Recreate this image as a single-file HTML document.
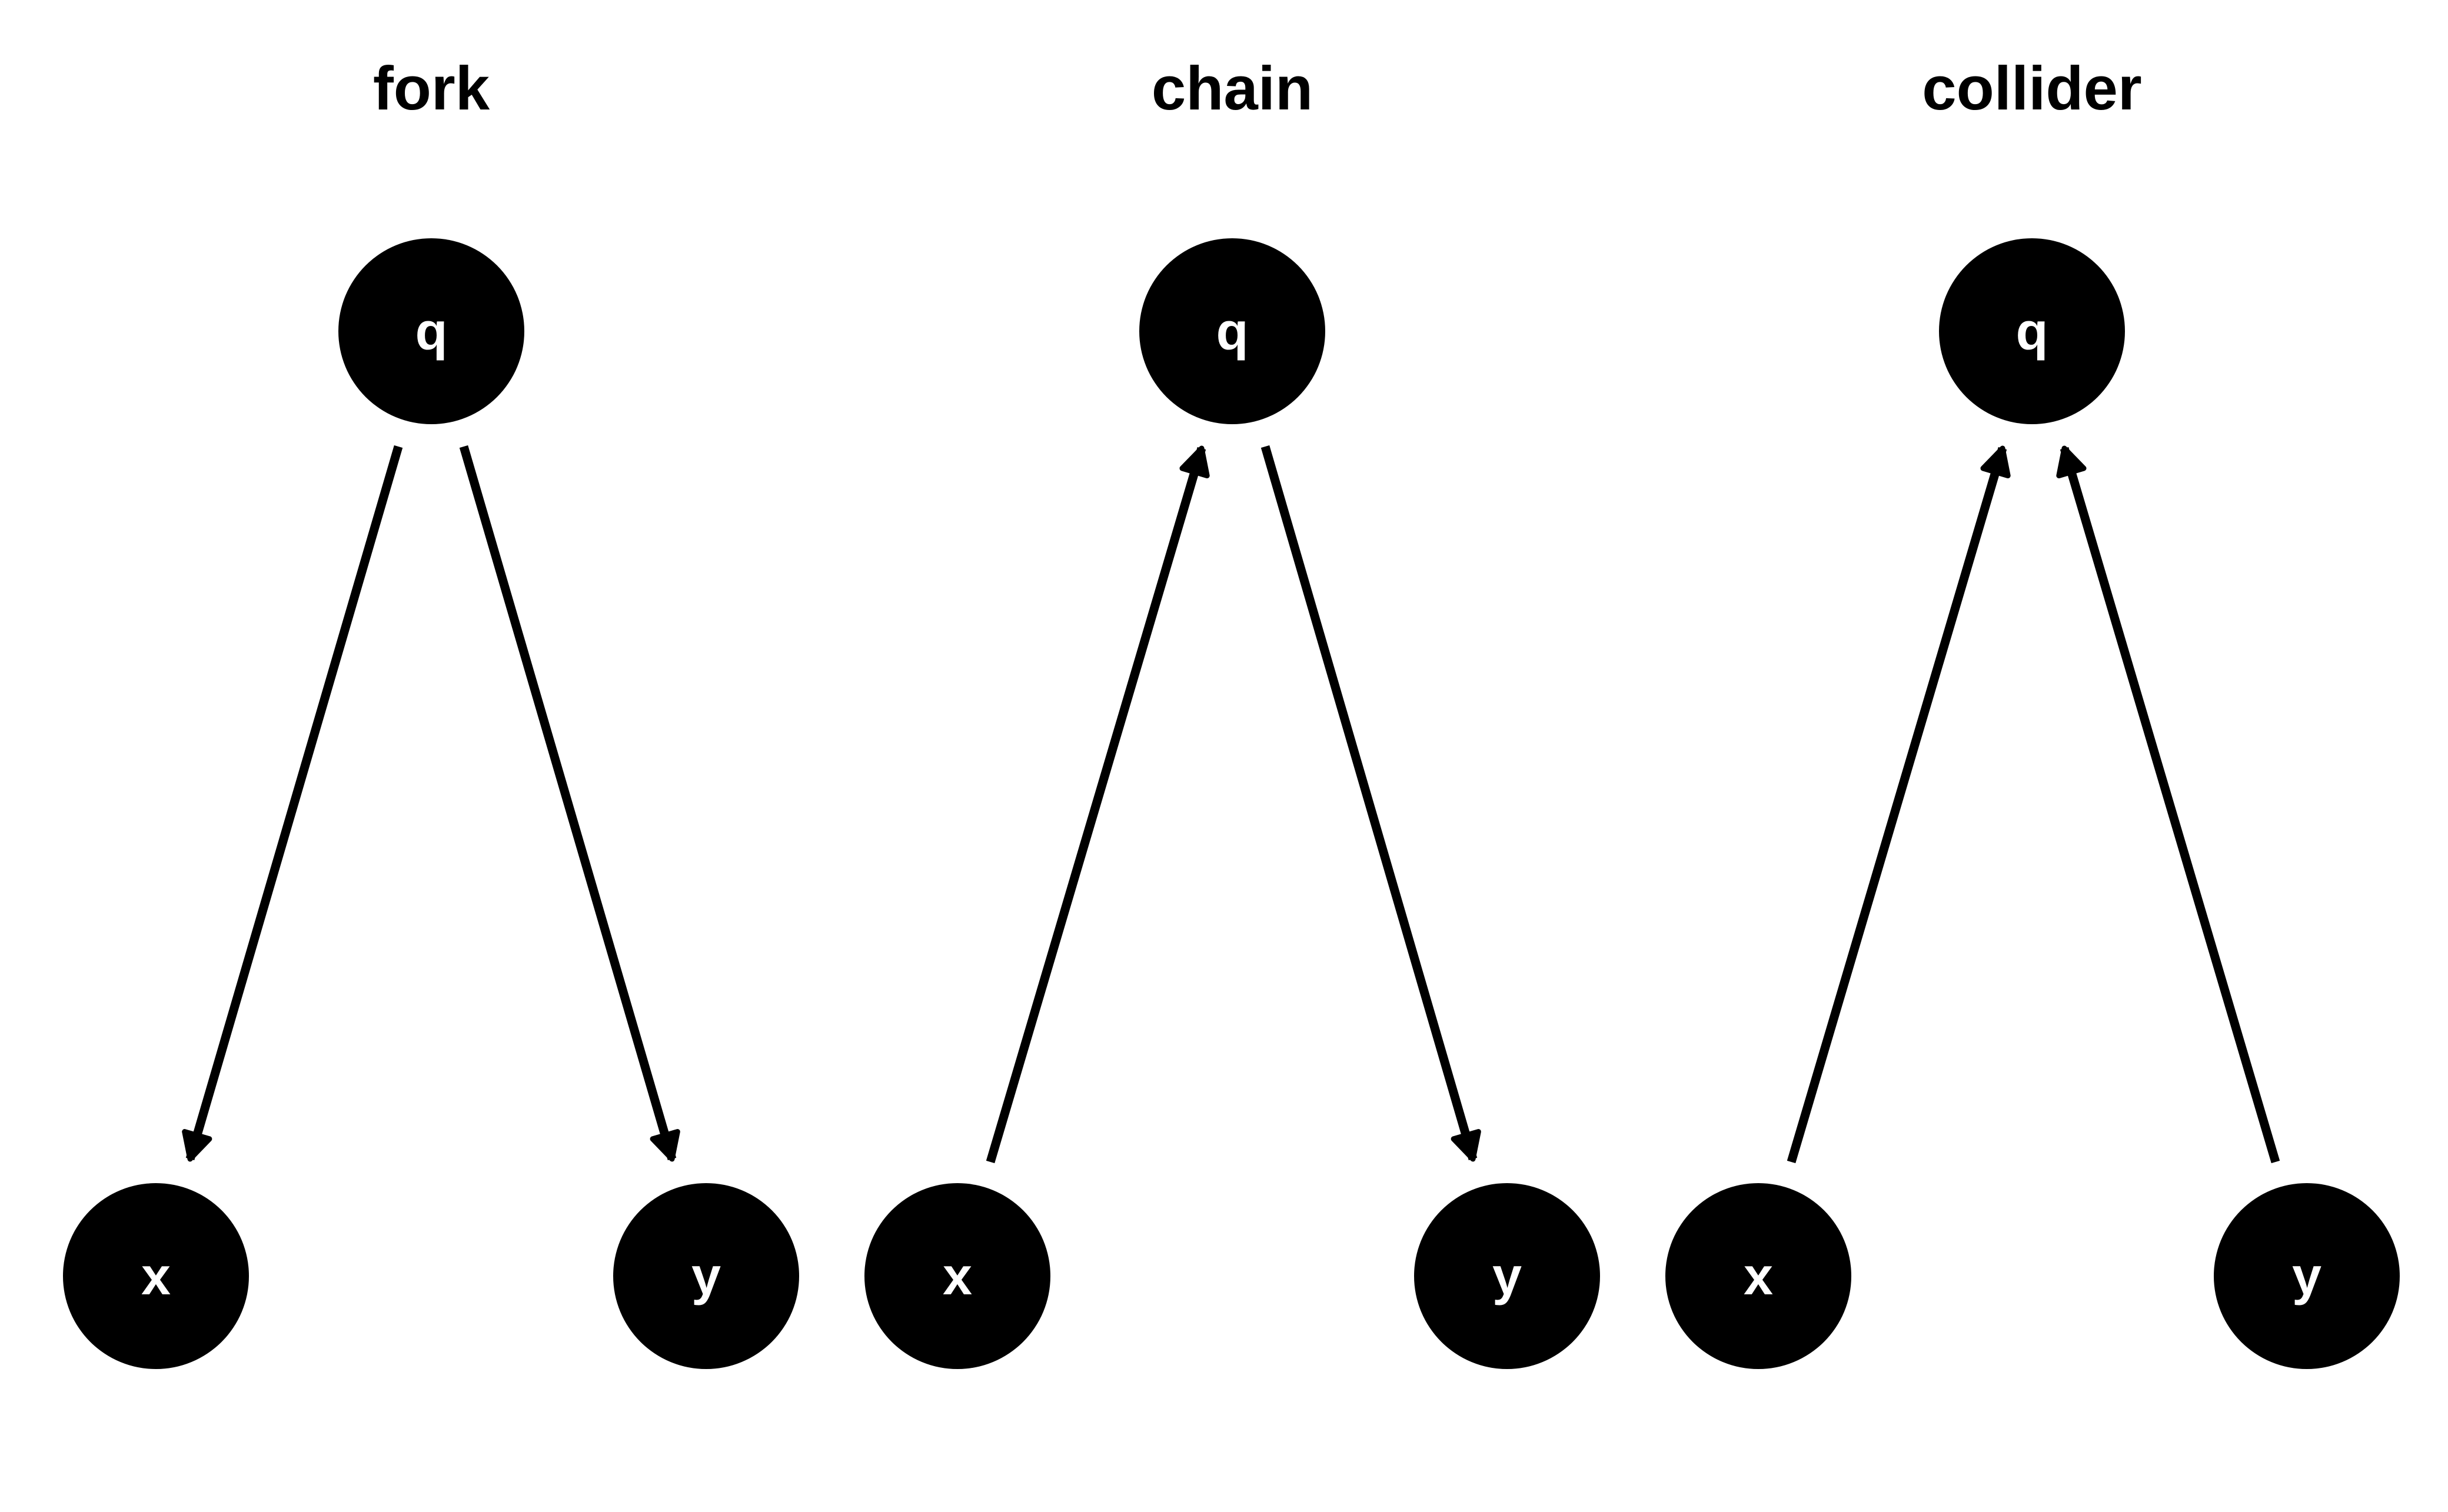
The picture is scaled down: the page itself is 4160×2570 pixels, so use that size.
<!DOCTYPE html>
<html><head><style>
html,body{margin:0;padding:0;background:#fff;}
svg{display:block;}
text{font-family:"Liberation Sans",sans-serif;font-weight:bold;}
</style></head><body>
<svg width="4160" height="2570" viewBox="0 0 4160 2570" xmlns="http://www.w3.org/2000/svg">
<defs>
<marker id="a" markerUnits="userSpaceOnUse" markerWidth="100" markerHeight="100" viewBox="-50 -50 100 100" refX="0" refY="0" orient="auto">
<polygon points="0,0 -42,-22 -42,22" fill="#000" stroke="#000" stroke-width="9" stroke-linejoin="round"/>
</marker>
</defs>
<g font-size="105" text-anchor="middle" fill="#000">
<text x="733" y="186">fork</text>
<text x="2094" y="186">chain</text>
<text x="3453" y="186">collider</text>
</g>
<g stroke="#000" stroke-width="15" fill="none" marker-end="url(#a)">
<line x1="677" y1="759" x2="323" y2="1970"/>
<line x1="788" y1="759" x2="1142" y2="1970"/>
<line x1="1683" y1="1975" x2="2042" y2="762"/>
<line x1="2150" y1="759" x2="2503" y2="1970"/>
<line x1="3044" y1="1975" x2="3403" y2="762"/>
<line x1="3867" y1="1975" x2="3508" y2="762"/>
</g>
<g fill="#000">
<circle cx="733" cy="563" r="158"/>
<circle cx="265" cy="2169" r="158"/>
<circle cx="1200" cy="2169" r="158"/>
<circle cx="2094" cy="563" r="158"/>
<circle cx="1627" cy="2169" r="158"/>
<circle cx="2561" cy="2169" r="158"/>
<circle cx="3453" cy="563" r="158"/>
<circle cx="2988" cy="2169" r="158"/>
<circle cx="3920" cy="2169" r="158"/>
</g>
<g font-size="90" text-anchor="middle" fill="#fff">
<text x="733" y="594">q</text>
<text x="265" y="2200">x</text>
<text x="1200" y="2200">y</text>
<text x="2094" y="594">q</text>
<text x="1627" y="2200">x</text>
<text x="2561" y="2200">y</text>
<text x="3453" y="594">q</text>
<text x="2988" y="2200">x</text>
<text x="3920" y="2200">y</text>
</g>
</svg>
</body></html>
